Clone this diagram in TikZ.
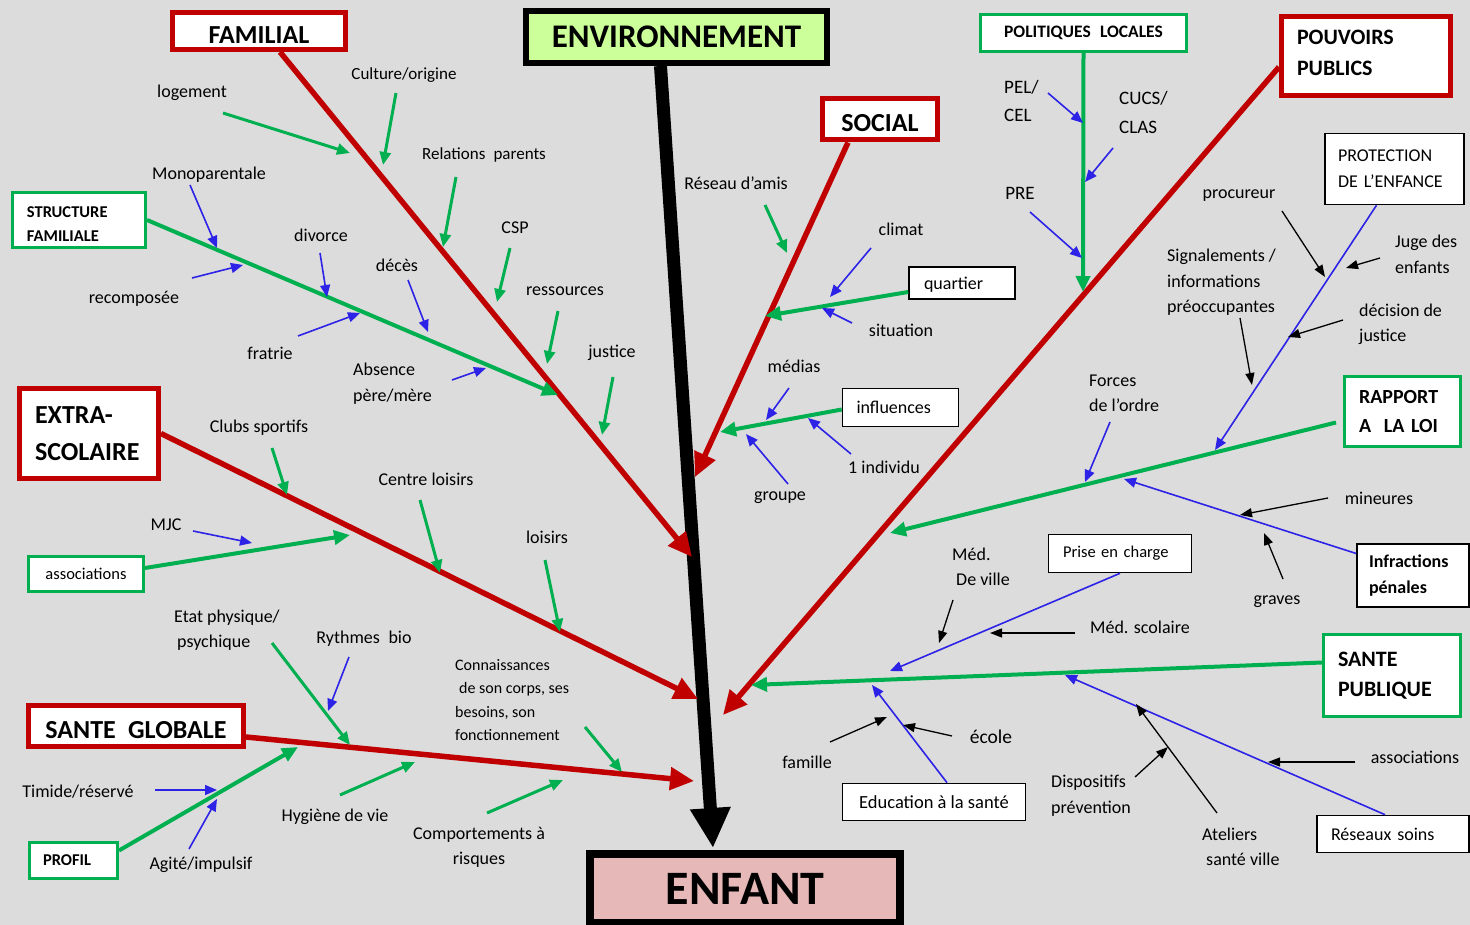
\documentclass[tikz,border=0pt]{standalone}
\usepackage{fontspec}
\setmainfont{Carlito}
\usetikzlibrary{arrows.meta}
\definecolor{bgc}{RGB}{220,220,220}
\definecolor{rd}{RGB}{192,0,0}
\definecolor{gr}{RGB}{0,176,80}
\definecolor{bl}{RGB}{45,35,230}
\definecolor{envg}{RGB}{204,255,153}
\definecolor{pinkf}{RGB}{230,184,183}
\newcommand\fsz[2]{\fontsize{#1}{#2}\selectfont}
\newcommand\lowstrut[1]{\rule{0pt}{#1}}
\newcommand\deepstrut[1]{\rule[-#1]{0pt}{#1}}
\begin{document}
\begin{tikzpicture}[x=1pt,y=-1pt,
  lbl/.style={inner sep=0pt, font=\fsz{18}{25.5}},
  lblL/.style={lbl, align=left, anchor=west},
  boxbase/.style={fill=white, inner sep=0pt},
  redbox/.style={boxbase, draw=rd, line width=5pt, font=\bfseries\fsz{26}{37}},
  grbox/.style={boxbase, draw=gr, line width=3pt},
  kbox/.style={boxbase, draw=black, line width=1.6pt, font=\fsz{18}{26}},
  redarr/.style={draw=rd, line width=5.5pt, -{Triangle[length=24pt,width=22pt]}},
  gmain/.style={draw=gr, line width=4pt, -{Triangle[length=16pt,width=14pt]}},
  gsub/.style={draw=gr, line width=3pt, -{Triangle[length=13pt,width=11pt]}},
  bline/.style={draw=bl, line width=1.6pt, -{Triangle[length=12pt,width=10pt]}},
  kline/.style={draw=black, line width=1.3pt, -{Triangle[length=12pt,width=9pt]}},
  spine/.style={draw=black, line width=13pt, -{Triangle[length=40pt,width=38pt]}}
]
\useasboundingbox (0,0) rectangle (1470,925);
\fill[bgc] (0,0) rectangle (1470,925);

% ---------- main boxes ----------
\node[draw=black, line width=6pt, fill=envg, inner sep=0pt, minimum width=301pt, minimum height=52pt, font=\bfseries\fsz{33}{40}] (env) at (676.5,37) {ENVIRONNEMENT};
\node[draw=black, line width=8pt, fill=pinkf, inner sep=0pt, minimum width=310pt, minimum height=69pt, font=\bfseries\fsz{48}{56}] (enf) at (745,888.5) {ENFANT};

% red boxes
\node[redbox, minimum width=173pt, minimum height=37pt] (fam) at (259,31) {\lowstrut{25pt}FAMILIAL};
\node[redbox, minimum width=115.5pt, minimum height=41pt] (soc) at (880,119.5) {\lowstrut{25pt}SOCIAL};
\node[redbox, minimum width=139pt, minimum height=90pt, text width=108pt, align=left] (ext) at (89,433.5) {EXTRA-\\SCOLAIRE};
\node[redbox, minimum width=215pt, minimum height=41pt] (sg) at (136,726) {\lowstrut{25pt}SANTE\hspace{0.25em} GLOBALE};
\node[redbox, minimum width=169pt, minimum height=79pt, text width=138pt, align=left, font=\bfseries\fsz{22}{31}] (pp) at (1366,56) {POUVOIRS\\PUBLICS\deepstrut{6pt}};

% green boxes
\node[grbox, minimum width=133pt, minimum height=55pt, text width=104pt, align=left, font=\bfseries\fsz{16.5}{24}] (sf) at (79,220) {\lowstrut{18.6pt}STRUCTURE\\FAMILIALE};
\node[grbox, minimum width=206pt, minimum height=37pt, font=\bfseries\fsz{17.5}{22}] (pl) at (1083.5,33) {POLITIQUES\hspace{0.3em} LOCALES};
\node[grbox, minimum width=115pt, minimum height=35pt, font=\fsz{16.5}{22}] (asso) at (86,574) {associations};
\node[grbox, minimum width=88pt, minimum height=36pt, text width=61pt, align=left, font=\bfseries\fsz{16.5}{22}] (prof) at (73.5,860.5) {PROFIL};
\node[grbox, minimum width=116pt, minimum height=70pt, text width=87pt, align=left, font=\bfseries\fsz{20}{29}] (rap) at (1402.5,411.5) {RAPPORT\\A\hspace{0.3em} LA LOI};
\node[grbox, minimum width=137pt, minimum height=82pt, text width=108pt, align=left, font=\bfseries\fsz{22}{30}] (sp) at (1392,675.5) {SANTE\\PUBLIQUE};

% black boxes
\node[kbox, minimum width=106pt, minimum height=32pt, text width=76pt, align=left] (q) at (962,283) {\lowstrut{16pt}quartier};
\node[kbox, minimum width=116pt, minimum height=38pt, text width=88pt, align=left] (inf) at (900.5,407.5) {influences};
\node[kbox, minimum width=139pt, minimum height=71pt, text width=113pt, align=left] (prot) at (1394.5,169) {PROTECTION\\DE L’ENFANCE};
\node[kbox, minimum width=112pt, minimum height=63pt, text width=88pt, align=left, font=\bfseries\fsz{18}{26}] (infr) at (1413,575.5) {Infractions\\pénales};
\node[kbox, minimum width=143pt, minimum height=38pt, text width=114pt, align=left, font=\fsz{16.5}{22}] (pec) at (1120,553.5) {Prise en charge};
\node[kbox, minimum width=183pt, minimum height=37pt, font=\fsz{18.5}{22}] (edu) at (934,802) {Education à la santé};
\node[kbox, minimum width=152pt, minimum height=37pt, text width=124pt, align=left] (rs) at (1393,834) {Réseaux soins};

% ---------- end points ----------
\coordinate (tSpine) at (713,848);
\coordinate (tFam) at (692,557);
\coordinate (tSoc) at (695,477);
\coordinate (tExt) at (698,699);
\coordinate (tSG) at (694,781);
\coordinate (tPP) at (723,715);
\coordinate (tSF) at (558,395);
\coordinate (tPL) at (1083,292);
\coordinate (tQ) at (765,316);
\coordinate (tInf) at (720,432);
\coordinate (tAsso) at (350,535);
\coordinate (tProf) at (298,747);
\coordinate (tRap) at (890,533);
\coordinate (tSP) at (751,685);
\coordinate (tProt) at (1215,450);
\coordinate (tInfr) at (1124,479);
\coordinate (tPec) at (890,671);
\coordinate (tEdu) at (872,685);
\coordinate (tRs) at (1065,675);

% ---------- spine and main branches ----------
\draw[spine] ([xshift=-16pt]env.south) -- (tSpine);
\draw[redarr] ([xshift=21pt]fam.south) -- (tFam);
\draw[redarr] ([xshift=-32pt]soc.south) -- (tSoc);
\draw[redarr] (ext.east) -- (tExt);
\draw[redarr] ([yshift=-11pt]sg.east) -- (tSG);
\draw[redarr] ([yshift=-11pt]pp.west) -- (tPP);

\draw[gmain] (sf.east) -- (tSF);
\draw[gmain] (pl.south) -- (tPL);
\draw[gmain] ([yshift=-9pt]q.west) -- (tQ);
\draw[gmain] ([yshift=-2pt]inf.west) -- (tInf);
\draw[gmain] ([yshift=6pt]asso.east) -- (tAsso);
\draw[gmain] ([yshift=10pt]prof.east) -- (tProf);
\draw[gmain] ([yshift=-11pt,xshift=-7pt]rap.west) -- (tRap);
\draw[gmain] ([yshift=13pt]sp.west) -- (tSP);

\draw[bline] ([xshift=-18pt]prot.south) -- (tProt);
\draw[bline] ([yshift=22pt]infr.west) -- (tInfr);
\draw[bline] (pec.south) -- (tPec);
\draw[bline] ([xshift=13pt]edu.north) -- (tEdu);
\draw[bline] ([xshift=-8pt]rs.north) -- (tRs);

% ---------- small arrows ----------
\foreach \n/\a/\b/\c/\d in {
  gA/223/113/350/153, gB/396/93/383/165, gC/456/177/443/247, gD/510/248/497/302,
  gE/558/311/547/364, gF/613/377/602/435, gG/765/205/787/253, gH/272/448/287/495,
  gI/420/500/440/573, gJ/545/560/560/632, gK/272/643/350/745, gL/340/795/415/762,
  gM/585/727/622/772, gN/487/813/563/780}
{ \coordinate (\n s) at (\a,\b); \coordinate (\n e) at (\c,\d); \draw[gsub] (\n s) -- (\n e); }

\foreach \n/\a/\b/\c/\d in {
  bA/190/185/217/248, bB/192/278/243/265, bC/320/253/327/297, bD/408/280/428/332,
  bE/298/336/360/313, bF/452/380/486/368, bG/871/248/830/297, bH/852/323/822/308,
  bI/789/388/766/420, bJ/851/454/808/418, bK/788/484/746/434, bL/193/531/252/543,
  bM/349/657/328/711, bN/155/790/217/790, bO/189/849/217/799, bP/1048/93/1083/123,
  bQ/1113/148/1085/182, bR/1030/212/1082/258, bS/1110/422/1085/482}
{ \coordinate (\n s) at (\a,\b); \coordinate (\n e) at (\c,\d); \draw[bline] (\n s) -- (\n e); }

\foreach \n/\a/\b/\c/\d in {
  kA/1282/211/1325/277, kB/1380/258/1346/268, kC/1343/320/1288/337, kD/1240/318/1252/385,
  kE/1328/498/1240/515, kF/1283/579/1264/533, kG/953/600/939/643, kH/1075/633/990/633,
  kI/830/742/887/717, kJ/952/736/903/725, kK/1355/762/1268/762, kL/1217/813/1136/704,
  kM/1135/777/1168/747}
{ \coordinate (\n s) at (\a,\b); \coordinate (\n e) at (\c,\d); \draw[kline] (\n s) -- (\n e); }

% ---------- labels ----------
\node[lbl, font=\fsz{17}{22}] (l1) at (404,75) {Culture/origine};
\node[lbl] (l2) at (192,93) {logement};
\node[lbl, font=\fsz{17}{22}] (l3) at (484,155) {Relations\hspace{0.25em} parents};
\node[lbl] (l4) at (209,175) {Monoparentale};
\node[lbl] (l5) at (321,235) {divorce};
\node[lbl] (l6) at (515,228) {CSP};
\node[lbl] (l7) at (397,265) {décès};
\node[lbl] (l8) at (565,291) {ressources};
\node[lbl] (l9) at (134,299) {recomposée};
\node[lbl] (l10) at (270,353) {fratrie};
\node[lblL] (l11) at (353,383.5) {Absence\\père/mère};
\node[lbl] (l12) at (612,353) {justice};
\node[lbl] (l13) at (259,428) {Clubs sportifs};
\node[lbl] (l14) at (426,479) {Centre loisirs};
\node[lbl] (l15) at (166,525) {MJC};
\node[lbl] (l16) at (547,537) {loisirs};
\node[lblL] (l17) at (174,630) {Etat physique/\\\hspace{3pt}psychique};
\node[lbl] (l18) at (364,639) {Rythmes\hspace{0.25em} bio};
\node[lblL, font=\fsz{16}{23.3}] (l19) at (455,700) {Connaissances\\\hspace{4pt}de son corps, ses\\besoins, son\\fonctionnement};
\node[lbl] (l20) at (78,792) {Timide/réservé};
\node[lbl] (l21) at (335,817) {Hygiène de vie};
\node[lbl, align=center] (l22) at (479,847.5) {Comportements à\\risques};
\node[lbl] (l23) at (201,865) {Agité/impulsif};
\node[lbl] (l24) at (736,183) {Réseau d’amis};
\node[lbl] (l25) at (901,229) {climat};
\node[lbl] (l26) at (901,330) {situation};
\node[lbl] (l27) at (794,366) {médias};
\node[lbl] (l28) at (884,467) {1 individu};
\node[lbl] (l29) at (780,498) {groupe};
\node[lblL, font=\fsz{19}{28}] (l30) at (1004,101) {PEL/\\CEL};
\node[lblL, font=\fsz{19}{29}] (l31) at (1119,112.5) {CUCS/\\CLAS};
\node[lbl, font=\fsz{19}{24}] (l32) at (1020,193) {PRE};
\node[lbl] (l33) at (1239,196) {procureur};
\node[lblL] (l34) at (1167,282.5) {Signalements /\\informations\\préoccupantes};
\node[lblL] (l35) at (1395,254.5) {Juge des\\enfants};
\node[lblL] (l36) at (1359,324.5) {décision de\\justice};
\node[lblL] (l37) at (1089,393.5) {Forces\\de l’ordre};
\node[lbl] (l38) at (1379,498) {mineures};
\node[lbl] (l39) at (1277,602) {graves};
\node[lblL] (l40) at (952,567) {Méd.\\\hspace{4pt}De ville};
\node[lbl] (l41) at (1140,627) {Méd. scolaire};
\node[lbl, font=\fsz{19.5}{24}] (l42) at (991,737) {école};
\node[lbl] (l43) at (807,762) {famille};
\node[lblL] (l44) at (1051,795.5) {Dispositifs\\prévention};
\node[lbl] (l45) at (1415,757) {associations};
\node[lblL] (l46) at (1202,847) {Ateliers\\\hspace{4pt}santé ville};
\end{tikzpicture}
\end{document}
